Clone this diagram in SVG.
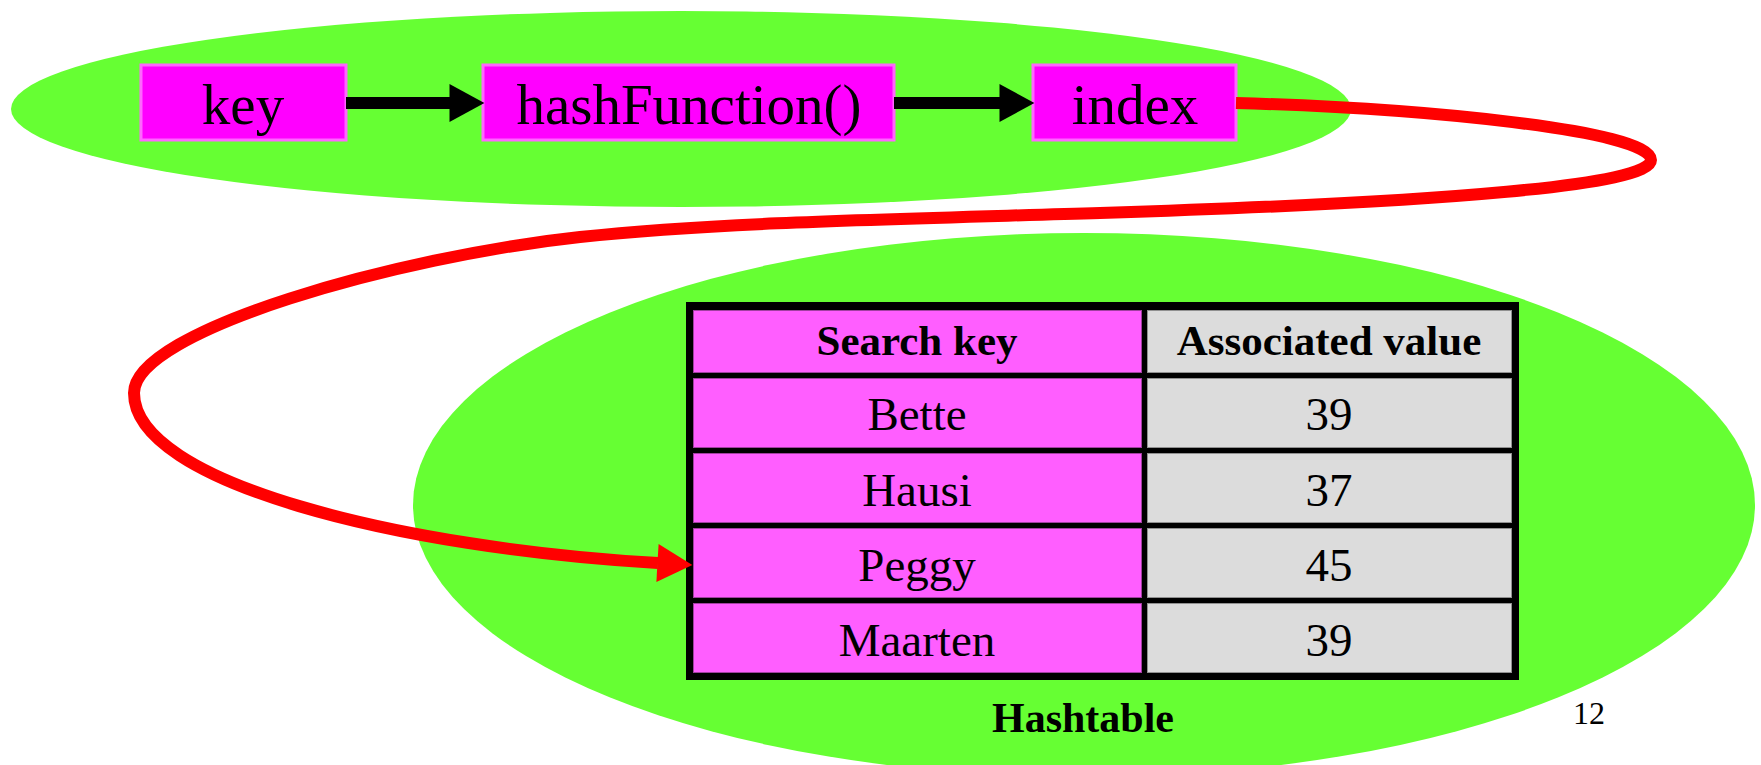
<svg xmlns="http://www.w3.org/2000/svg" width="1761" height="765" viewBox="0 0 1761 765">
  <style>
    .zone { fill: #66ff33; }
    .box { fill: #ff00ff; stroke: #ff66ff; stroke-width: 3; }
    .boxtext { font-family: "Liberation Serif", "Times New Roman", serif; font-size: 57px; fill: #000; text-anchor: middle; }
    .cellkey { fill: #ff5eff; stroke: #a040a0; stroke-width: 1; }
    .cellval { fill: #dcdcdc; stroke: #909090; stroke-width: 1; }
    .head { font-family: "Liberation Serif", "Times New Roman", serif; font-size: 43px; font-weight: bold; fill: #000; text-anchor: middle; }
    .cell { font-family: "Liberation Serif", "Times New Roman", serif; font-size: 47px; fill: #000; text-anchor: middle; }
    .caption { font-family: "Liberation Serif", "Times New Roman", serif; font-size: 42px; font-weight: bold; fill: #000; text-anchor: middle; }
    .pageno { font-family: "Liberation Serif", "Times New Roman", serif; font-size: 32px; fill: #000; text-anchor: middle; }
    .flow { fill: none; stroke: #000; stroke-width: 12; }
    .lookup { fill: none; stroke: #ff0000; stroke-width: 12; }
  </style>
  <defs>
    <marker id="arrowBlack" markerUnits="userSpaceOnUse" markerWidth="36" markerHeight="38" viewBox="0 0 34 37" refX="0.5" refY="18.5" orient="auto">
      <path d="M0,0 L34,18.5 L0,37 Z" fill="#000"/>
    </marker>
    <marker id="arrowRed" markerUnits="userSpaceOnUse" markerWidth="36" markerHeight="38" viewBox="0 0 34 37" refX="0.5" refY="18.5" orient="auto">
      <path d="M0,0 L34,18.5 L0,37 Z" fill="#ff0000"/>
    </marker>
  </defs>

  <rect width="1761" height="765" fill="#fff"/>

  <!-- background zones -->
  <ellipse class="zone" cx="681" cy="109" rx="670" ry="98"/>
  <ellipse class="zone" cx="1084" cy="505" rx="671" ry="272"/>

  <!-- pipeline: key -> hashFunction() -> index -->
  <g id="node-key">
    <rect class="box" x="141" y="65" width="205" height="75"/>
    <text class="boxtext" x="243" y="124">key</text>
  </g>
  <g id="node-hashFunction">
    <rect class="box" x="483" y="65" width="411" height="75"/>
    <text class="boxtext" x="689" y="124">hashFunction()</text>
  </g>
  <g id="node-index">
    <rect class="box" x="1033" y="65" width="203" height="75"/>
    <text class="boxtext" x="1135" y="124">index</text>
  </g>

  <!-- hashtable -->
  <g id="node-hashtable">
    <rect x="686" y="302" width="833" height="378" fill="#000"/>
    <rect class="cellkey" x="693.5" y="310.5" width="448" height="62"/>
    <rect class="cellval" x="1147.5" y="310.5" width="364" height="62"/>
    <rect class="cellkey" x="693.5" y="378.5" width="448" height="69"/>
    <rect class="cellval" x="1147.5" y="378.5" width="364" height="69"/>
    <rect class="cellkey" x="693.5" y="453.5" width="448" height="69"/>
    <rect class="cellval" x="1147.5" y="453.5" width="364" height="69"/>
    <rect class="cellkey" x="693.5" y="528.5" width="448" height="69"/>
    <rect class="cellval" x="1147.5" y="528.5" width="364" height="69"/>
    <rect class="cellkey" x="693.5" y="603.5" width="448" height="69"/>
    <rect class="cellval" x="1147.5" y="603.5" width="364" height="69"/>

    <text class="head" x="917" y="355">Search key</text>
    <text class="head" x="1329" y="355">Associated value</text>

    <text class="cell" x="917" y="430">Bette</text>
    <text class="cell" x="1329" y="430">39</text>
    <text class="cell" x="917" y="506">Hausi</text>
    <text class="cell" x="1329" y="506">37</text>
    <text class="cell" x="917" y="581">Peggy</text>
    <text class="cell" x="1329" y="581">45</text>
    <text class="cell" x="917" y="656">Maarten</text>
    <text class="cell" x="1329" y="656">39</text>

    <text class="caption" x="1083" y="732">Hashtable</text>
  </g>

  <!-- connectors -->
  <g id="connectors">
    <path class="flow" d="M346,103 L450,103" marker-end="url(#arrowBlack)"/>
    <path class="flow" d="M894,103 L1000,103" marker-end="url(#arrowBlack)"/>
    <path class="lookup" d="M1236,103 C1420,108 1651,130 1651,160 C1651,185 1450,202 1100,213 C900,219 720,222 580,237 C400,256.3 134,330 134,393 C134,483 400,548 658,563" marker-end="url(#arrowRed)"/>
  </g>

  <text class="pageno" x="1589" y="724">12</text>
</svg>
